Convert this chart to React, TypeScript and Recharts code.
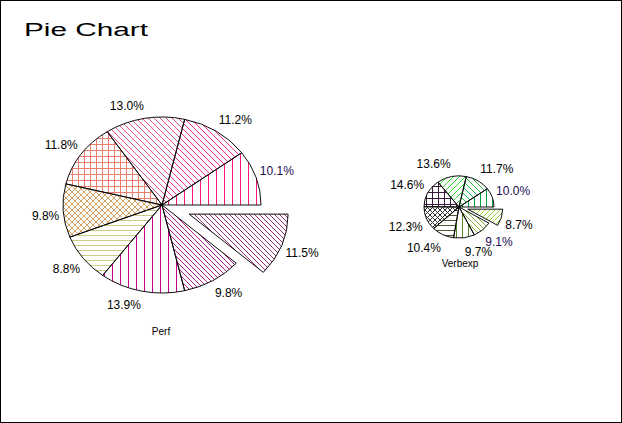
import { PieChart, Pie, Cell } from 'recharts';

// slice shares in percent, counter-clockwise from 3 o'clock
const perfShares = [10.1, 11.2, 13.0, 11.8, 9.8, 8.8, 13.9, 9.8, 11.5];
const verbexpShares = [10.0, 11.7, 13.6, 14.6, 12.3, 10.4, 9.7, 9.1, 8.7];
const pieCaptions = ['Perf', 'Verbexp'];
const chartTitle = 'Pie Chart';
const explodedSlice = 8;

const W = 622;
const H = 423;
// the pies are drawn as ellipses: squash the whole chart vertically
const K = 0.889;
const SVG_H = H / K;
const RAD = Math.PI / 180;
const FONT = '"Liberation Sans", Arial, sans-serif';

type Hatch = 'v' | 'h' | 'bd' | 'fd' | 'grid' | 'diamond';

const perfHatch: Hatch[] = ['v', 'bd', 'bd', 'grid', 'diamond', 'h', 'v', 'bd', 'bd'];
const perfStep = [8, 6, 6, 6, 6, 5, 8, 5, 5];
const perfInk = ['#ff1478', '#ff2e8c', '#d9508a', '#e8806f', '#d4a264', '#cccc80', '#cc0090', '#b0208a', '#962e78'];
const perfLabelInk = ['#1c0c50', '#000', '#000', '#000', '#000', '#000', '#000', '#000', '#000'];

const verbHatch: Hatch[] = ['v', 'bd', 'fd', 'grid', 'diamond', 'h', 'v', 'bd', 'fd'];
const verbStep = [6, 6, 6, 6, 5, 5, 6, 5, 5];
const verbInk = ['#00a040', '#22bb44', '#33d633', '#3a1a3a', '#333333', '#555535', '#558822', '#80b438', '#94d440'];
const verbLabelInk = ['#1c0c50', '#000', '#000', '#000', '#000', '#000', '#000', '#1c0c50', '#000'];

function HatchPattern({ id, kind, ink, step }: { id: string; kind: Hatch; ink: string; step: number }) {
  const n = step;
  const px: [number, number][] = [];
  for (let i = 0; i < n; i++) {
    if (kind === 'v' || kind === 'grid') px.push([0, i]);
    if (kind === 'h' || kind === 'grid') px.push([i, 0]);
    if (kind === 'bd' || kind === 'diamond') px.push([i, i]);
    if (kind === 'fd' || kind === 'diamond') px.push([n - 1 - i, i]);
  }
  return (
    <pattern id={id} patternUnits="userSpaceOnUse" width={n} height={n} patternTransform={`scale(1 ${1 / K})`}>
      {px.map(([x, y], k) => (
        <rect key={k} x={x} y={y} width={1} height={1} fill={ink} shapeRendering="crispEdges" />
      ))}
    </pattern>
  );
}

type PieSpec = {
  id: string;
  values: number[];
  cx: number;
  cy: number;
  r: number;
  explode: number;
  hatch: Hatch[];
  step: number[];
  ink: string[];
  labelInk: string[];
};

const pies: PieSpec[] = [
  { id: 'perf', values: perfShares, cx: 162, cy: 205, r: 99, explode: 29, hatch: perfHatch, step: perfStep, ink: perfInk, labelInk: perfLabelInk },
  { id: 'verb', values: verbexpShares, cx: 459, cy: 207, r: 35, explode: 9, hatch: verbHatch, step: verbStep, ink: verbInk, labelInk: verbLabelInk },
];

const makeLabel = (spec: PieSpec, show: (i: number) => boolean) => (p: any) => {
  if (!show(p.index)) return null;
  const cos = Math.cos(p.midAngle * RAD);
  const sin = Math.sin(p.midAngle * RAD);
  const x = p.cx + (p.outerRadius + 4) * cos;
  const y = p.cy - ((p.outerRadius * K + 9) / K) * sin;
  return (
    <text
      key={`lbl-${spec.id}-${p.index}`}
      transform={`translate(${x} ${y}) scale(1 ${1 / K})`}
      x={0}
      y={sin >= 0 ? 0 : 9}
      textAnchor={cos >= 0 ? 'start' : 'end'}
      fill={spec.labelInk[p.index]}
      fontSize={12}
      fontFamily={FONT}
    >
      {`${Number(p.value).toFixed(1)}%`}
    </text>
  );
};

function midAngleOf(values: number[], idx: number) {
  const total = values.reduce((a, b) => a + b, 0);
  const before = values.slice(0, idx).reduce((a, b) => a + b, 0);
  return ((before + values[idx] / 2) / total) * 360;
}

export default function App() {
  return (
    <div style={{ position: 'absolute', left: 0, top: 0, width: W, height: H, overflow: 'hidden', background: '#fff' }}>
      <div style={{ position: 'absolute', left: 0, top: 0, width: W, height: SVG_H, transform: `scaleY(${K})`, transformOrigin: '0 0' }}>
        <PieChart width={W} height={SVG_H} margin={{ top: 0, right: 0, bottom: 0, left: 0 }}>
          <defs>
            {pies.map((s) =>
              s.hatch.map((h, i) => (
                <HatchPattern key={`${s.id}-${i}`} id={`${s.id}-pat-${i}`} kind={h} ink={s.ink[i]} step={s.step[i]} />
              ))
            )}
          </defs>
          {pies.flatMap((s) => {
            const data = s.values.map((v, i) => ({ name: `${s.id}${i}`, value: v }));
            const mid = midAngleOf(s.values, explodedSlice) * RAD;
            const cy = s.cy / K;
            return [
              <Pie
                key={`${s.id}-main`}
                data={data}
                dataKey="value"
                cx={s.cx}
                cy={cy}
                outerRadius={s.r}
                startAngle={0}
                endAngle={360}
                stroke="#000"
                strokeWidth={1}
                labelLine={false}
                label={makeLabel(s, (i) => i !== explodedSlice)}
                isAnimationActive={false}
              >
                {data.map((_, i) => (
                  <Cell
                    key={i}
                    fill={i === explodedSlice ? 'none' : `url(#${s.id}-pat-${i})`}
                    stroke={i === explodedSlice ? 'none' : '#000'}
                  />
                ))}
              </Pie>,
              <Pie
                key={`${s.id}-out`}
                data={data}
                dataKey="value"
                cx={s.cx + s.explode * Math.cos(mid)}
                cy={cy - s.explode * Math.sin(mid)}
                outerRadius={s.r}
                startAngle={0}
                endAngle={360}
                stroke="#000"
                strokeWidth={1}
                labelLine={false}
                label={makeLabel(s, (i) => i === explodedSlice)}
                isAnimationActive={false}
              >
                {data.map((_, i) => (
                  <Cell
                    key={i}
                    fill={i === explodedSlice ? `url(#${s.id}-pat-${i})` : 'none'}
                    stroke={i === explodedSlice ? '#000' : 'none'}
                  />
                ))}
              </Pie>,
            ];
          })}
        </PieChart>
      </div>
      <svg width={W} height={H} style={{ position: 'absolute', left: 0, top: 0, pointerEvents: 'none' }}>
        <rect x={0.5} y={0.5} width={W - 1} height={H - 1} fill="none" stroke="#000" strokeWidth={1} />
        <text x={24} y={36} fontSize={18} fontFamily={FONT} fill="#000" textLength={124} lengthAdjust="spacingAndGlyphs">
          {chartTitle}
        </text>
        <text x={161} y={335} fontSize={10} fontFamily={FONT} fill="#000" textAnchor="middle">
          {pieCaptions[0]}
        </text>
        <text x={460} y={267} fontSize={10} fontFamily={FONT} fill="#000" textAnchor="middle">
          {pieCaptions[1]}
        </text>
      </svg>
    </div>
  );
}
